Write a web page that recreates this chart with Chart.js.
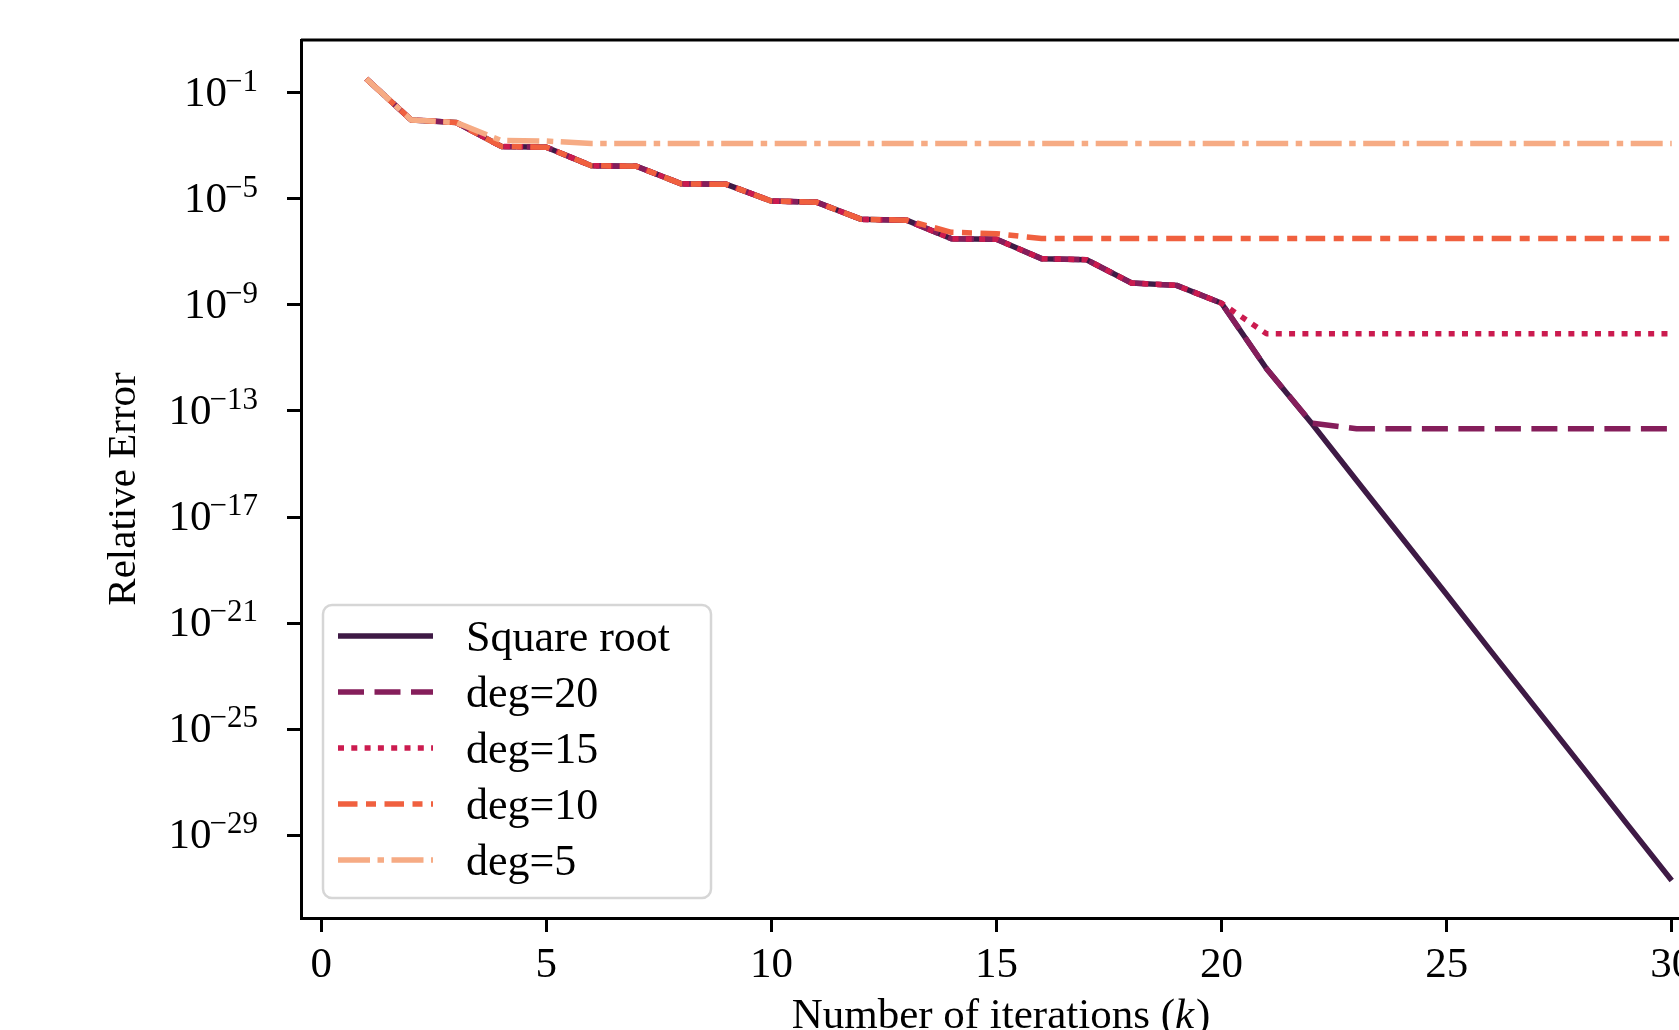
<!DOCTYPE html>
<html>
<head>
<meta charset="utf-8">
<script src="https://cdn.jsdelivr.net/npm/chart.js@4.4.1/dist/chart.umd.min.js"></script>
<style>
    html, body { margin: 0; padding: 0; background: #fff; overflow: hidden; }
    #wrap { width: 1760px; height: 1060px; }
</style>
</head>
<body>
<div id="wrap"><canvas id="errChart" width="1760" height="1060"></canvas></div>
<script>
// Relative error vs. number of iterations (k)

const iterations = [1, 2, 3, 4, 5, 6, 7, 8, 9, 10, 11, 12, 13, 14, 15,
                    16, 17, 18, 19, 20, 21, 22, 23, 24, 25, 26, 27, 28, 29, 30];

const sqrtErr = [3.3e-1, 9.3e-3, 7.4e-3, 9.3e-4, 8.7e-4, 1.74e-4, 1.66e-4, 3.63e-5, 3.47e-5, 8.1e-6,
                 7.4e-6, 1.66e-6, 1.55e-6, 3.1e-7, 2.95e-7, 5.5e-8, 5.0e-8, 6.6e-9, 5.4e-9, 1.15e-9,
                 3.9e-12, 3.4e-14, 2.4e-16, 1.7e-18, 1.2e-20, 8.1e-23, 5.8e-25, 4.1e-27, 2.8e-29, 2.0e-31];

const deg20Err = [3.3e-1, 9.3e-3, 7.4e-3, 9.3e-4, 8.7e-4, 1.74e-4, 1.66e-4, 3.63e-5, 3.47e-5, 8.1e-6,
                  7.4e-6, 1.66e-6, 1.55e-6, 3.1e-7, 2.95e-7, 5.5e-8, 5.0e-8, 6.6e-9, 5.4e-9, 1.15e-9,
                  3.9e-12, 3.5e-14, 2.14e-14, 2.14e-14, 2.14e-14, 2.14e-14, 2.14e-14, 2.14e-14, 2.14e-14, 2.14e-14];

const deg15Err = [3.3e-1, 9.3e-3, 7.4e-3, 9.3e-4, 8.7e-4, 1.74e-4, 1.66e-4, 3.63e-5, 3.47e-5, 8.1e-6,
                  7.4e-6, 1.66e-6, 1.55e-6, 3.1e-7, 2.95e-7, 5.5e-8, 5.0e-8, 6.6e-9, 5.4e-9, 1.15e-9,
                  8.1e-11, 8.1e-11, 8.1e-11, 8.1e-11, 8.1e-11, 8.1e-11, 8.1e-11, 8.1e-11, 8.1e-11, 8.1e-11];

const deg10Err = [3.3e-1, 9.3e-3, 7.4e-3, 9.3e-4, 8.7e-4, 1.74e-4, 1.66e-4, 3.63e-5, 3.47e-5, 8.1e-6,
                  7.4e-6, 1.66e-6, 1.55e-6, 5.4e-7, 4.8e-7, 3.16e-7, 3.16e-7, 3.16e-7, 3.16e-7, 3.16e-7,
                  3.16e-7, 3.16e-7, 3.16e-7, 3.16e-7, 3.16e-7, 3.16e-7, 3.16e-7, 3.16e-7, 3.16e-7, 3.16e-7];

const deg5Err = [3.3e-1, 9.3e-3, 7.4e-3, 1.55e-3, 1.48e-3, 1.2e-3, 1.2e-3, 1.2e-3, 1.2e-3, 1.2e-3,
                 1.2e-3, 1.2e-3, 1.2e-3, 1.2e-3, 1.2e-3, 1.2e-3, 1.2e-3, 1.2e-3, 1.2e-3, 1.2e-3,
                 1.2e-3, 1.2e-3, 1.2e-3, 1.2e-3, 1.2e-3, 1.2e-3, 1.2e-3, 1.2e-3, 1.2e-3, 1.2e-3];

const seriesLabels = ['Square root', 'deg=20', 'deg=15', 'deg=10', 'deg=5'];
const xTicks = [0, 5, 10, 15, 20, 25, 30];
const yTickExponents = [-1, -5, -9, -13, -17, -21, -25, -29];
const xTitle = ['Number of iterations (', 'k', ')'];
const yTitle = 'Relative Error';

const FONT = "'Liberation Serif', 'DejaVu Serif', serif";
Chart.defaults.font.family = FONT;
Chart.defaults.color = '#000';

const colors = ['#3e1a45', '#851e5b', '#cb1b4f', '#f0603f', '#f6ab84'];
const dashes = [[], [26, 10.5], [6, 7.3], [19.5, 8.5, 10, 8.5], [32, 7.5, 6.5, 7.5]];
const seriesData = [sqrtErr, deg20Err, deg15Err, deg10Err, deg5Err];

// spines on top/right, drawn over the lines like matplotlib does
const framePlugin = {
    id: 'frame',
    afterDatasetsDraw(chart) {
        const {ctx, chartArea: a} = chart;
        ctx.save();
        ctx.strokeStyle = '#000';
        ctx.lineWidth = 3;
        ctx.beginPath();
        ctx.moveTo(a.left, a.top);
        ctx.lineTo(a.right, a.top);
        ctx.lineTo(a.right, a.bottom);
        ctx.stroke();
        ctx.restore();
    }
};

// y tick labels as 10 with a raised exponent, plus the two axis titles
const axisText = {
    id: 'axisText',
    afterDraw(chart) {
        const {ctx, chartArea: a} = chart;
        const y = chart.scales.y;
        const xRight = 258;
        ctx.save();
        ctx.fillStyle = '#000';
        ctx.textBaseline = 'alphabetic';
        ctx.textAlign = 'left';
        y.ticks.forEach(t => {
            const py = y.getPixelForValue(t.value);
            const exp = Math.round(Math.log10(t.value));
            const expText = '\u2212' + Math.abs(exp);
            ctx.font = '31px ' + FONT;
            const ew = ctx.measureText(expText).width;
            ctx.fillText(expText, xRight - ew, py - 2);
            ctx.font = '43px ' + FONT;
            const bw = ctx.measureText('10').width;
            ctx.fillText('10', xRight - ew - bw + 2, py + 13);
        });

        // x title, k set in italic
        const parts = xTitle.map((s, i) => ({ s, f: (i === 1 ? 'italic ' : '') + '43px ' + FONT }));
        let total = 0;
        parts.forEach(p => { ctx.font = p.f; p.w = ctx.measureText(p.s).width; total += p.w; });
        let tx = 1000 - total / 2;
        parts.forEach(p => { ctx.font = p.f; ctx.fillText(p.s, tx, 1028); tx += p.w + (p.s === 'k' ? 2 : 0); });

        // y title
        ctx.translate(124, (a.top + a.bottom) / 2 + 10);
        ctx.rotate(-Math.PI / 2);
        ctx.textAlign = 'center';
        ctx.textBaseline = 'middle';
        ctx.font = '41px ' + FONT;
        ctx.fillText(yTitle, 0, 0);
        ctx.restore();
    }
};

// legend box in the lower left of the axes
const boxLegend = {
    id: 'boxLegend',
    afterDraw(chart) {
        const {ctx} = chart;
        const x0 = 323, y0 = 605, w = 388, h = 293, r = 9;
        ctx.save();
        ctx.beginPath();
        ctx.roundRect(x0, y0, w, h, r);
        ctx.fillStyle = 'rgba(255,255,255,0.8)';
        ctx.fill();
        ctx.lineWidth = 2.5;
        ctx.strokeStyle = '#d6d6d6';
        ctx.stroke();
        chart.data.datasets.forEach((ds, i) => {
            const ry = 636 + i * 56;
            ctx.beginPath();
            ctx.setLineDash(ds.borderDash || []);
            ctx.lineWidth = ds.borderWidth;
            ctx.strokeStyle = ds.borderColor;
            ctx.lineCap = 'butt';
            ctx.moveTo(338, ry);
            ctx.lineTo(433, ry);
            ctx.stroke();
            ctx.setLineDash([]);
            ctx.fillStyle = '#000';
            ctx.font = '44px ' + FONT;
            ctx.textBaseline = 'alphabetic';
            ctx.textAlign = 'left';
            ctx.fillText(ds.label, 466, ry + 15);
        });
        ctx.restore();
    }
};

const datasets = seriesLabels.map((label, i) => ({
    label: label,
    data: seriesData[i],
    borderColor: colors[i],
    backgroundColor: colors[i],
    borderWidth: 5.5,
    borderDash: dashes[i],
    borderJoinStyle: 'round',
    borderCapStyle: 'butt',
    pointRadius: 0,
    fill: false,
    tension: 0,
    order: seriesLabels.length - i
}));

const ctx = document.getElementById('errChart').getContext('2d');
new Chart(ctx, {
    type: 'line',
    data: { labels: iterations, datasets: datasets },
    options: {
        responsive: false,
        devicePixelRatio: 1,
        animation: false,
        layout: { padding: { top: 40, right: 23, left: 0, bottom: 0 } },
        plugins: {
            legend: { display: false },
            tooltip: { enabled: false }
        },
        scales: {
            x: {
                type: 'linear',
                min: -0.45,
                max: 31.45,
                afterBuildTicks: scale => { scale.ticks = xTicks.map(v => ({ value: v })); },
                afterFit: scale => { scale.height = 142; },
                ticks: {
                    font: { size: 43 },
                    color: '#000',
                    padding: 8,
                    maxRotation: 0,
                    autoSkip: false
                },
                grid: {
                    drawOnChartArea: false,
                    drawTicks: true,
                    tickLength: 14,
                    color: '#000',
                    lineWidth: 3
                },
                border: { display: true, color: '#000', width: 3 },
                title: { display: false }
            },
            y: {
                type: 'logarithmic',
                min: Math.pow(10, -32.11),
                max: Math.pow(10, 0.98),
                afterBuildTicks: scale => {
                    scale.ticks = yTickExponents.map(e => ({ value: Math.pow(10, e) }));
                },
                afterFit: scale => { scale.width = 301; },
                ticks: {
                    callback: () => '',
                    autoSkip: false
                },
                grid: {
                    drawOnChartArea: false,
                    drawTicks: true,
                    tickLength: 14,
                    color: '#000',
                    lineWidth: 3
                },
                border: { display: true, color: '#000', width: 3 },
                title: { display: false }
            }
        }
    },
    plugins: [framePlugin, axisText, boxLegend]
});
</script>
</body>
</html>
